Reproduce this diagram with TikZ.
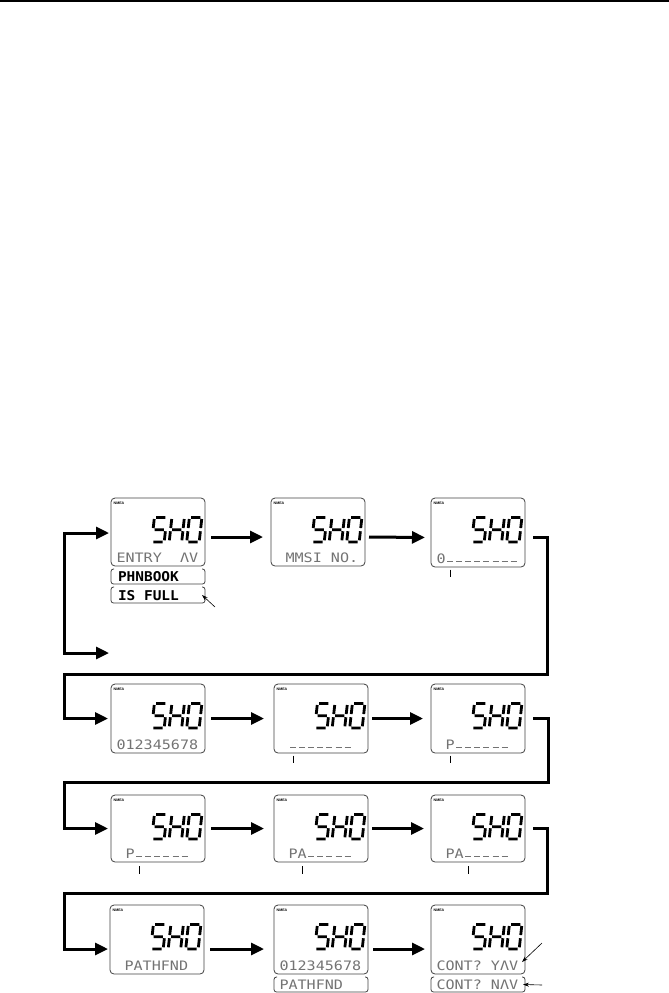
\documentclass[tikz,border=0pt]{standalone}
\usepackage{fontspec}
\usetikzlibrary{arrows.meta,calc}
\newfontfamily\lcdfont[FakeStretch=1.16]{DejaVu Sans Mono}
\newfontfamily\lcdboldfont[FakeStretch=1.07]{DejaVu Sans Mono}
\newfontfamily\nmeafont{Liberation Sans}
\newcommand\blk{\phantom{0}}
\newcommand\dsh{\hbox to \fontcharwd\font`0{\hss\rule[2pt]{6pt}{0.9pt}\hss}}
\tikzset{
  lcdbox/.style={draw=black!75, line width=0.8pt, rounded corners=4pt, minimum width=94pt, inner sep=0pt, outer sep=0pt},
  lcdtxt/.style={anchor=base west, inner sep=0pt, outer sep=0pt, text=black!55, font=\lcdfont\fontsize{13}{13}\selectfont},
  boldtxt/.style={anchor=base west, inner sep=0pt, outer sep=0pt, text=black, font=\lcdboldfont\bfseries\fontsize{13.5}{13.5}\selectfont},
  nmea/.style={anchor=west, inner sep=0pt, font=\nmeafont\bfseries\fontsize{3.6}{4}\selectfont},
  stripnode/.style={minimum width=94pt, inner sep=0pt, outer sep=0pt},
  stripline/.style={draw=black!75, line width=0.8pt, rounded corners=2.5pt},
  flow/.style={line width=3pt, -{Triangle[length=13pt,width=12pt]}},
  tickline/.style={line width=0.8pt},
  ptr/.style={line width=0.6pt, -{Stealth[length=6pt,width=4pt]}},
  seg/.style={line width=2.8pt, line cap=butt},
  sho/.pic={
    \begin{scope}[xslant=0.11]
      \draw[seg] (1.6,0)--(10.9,0) (0,1.6)--(0,10.65) (1.6,12.25)--(10.9,12.25) (12.5,13.85)--(12.5,22.9) (1.6,24.5)--(10.9,24.5);
      \draw[seg,shift={(17.5,0)}] (0,1.6)--(0,10.65) (0,13.85)--(0,22.9) (12.5,1.6)--(12.5,10.65) (12.5,13.85)--(12.5,22.9) (1.6,12.25)--(10.9,12.25);
      \draw[seg,shift={(35,0)}] (1.6,0)--(10.9,0) (0,1.6)--(0,10.65) (0,13.85)--(0,22.9) (12.5,1.6)--(12.5,10.65) (12.5,13.85)--(12.5,22.9) (1.6,24.5)--(10.9,24.5);
    \end{scope}
  }
}
\newcommand\lcd[5]{%
  \node[lcdbox, minimum height=#4pt] (#1) at (#2+47,#3+#4/2) {};
  \node[nmea] (#1m) at (#2+2.5,#3+5.5) {NMEA};
  \pic at (#2+43.4,#3+19.4) {sho};
  \node[lcdtxt] (#1t) at (#2+5.5,#3+#4-3.5) {#5};
}
\newcommand\lcdstrip[7]{%
  \node[stripnode, minimum height=#4pt] (#1) at (#2+47,#3+#4/2) {};
  \draw[stripline] ([xshift=3pt]#1.north west) -- (#1.north west) -- (#1.south west) -- (#1.south east) -- (#1.north east) -- ([xshift=-3pt]#1.north east);
  \node[#6] (#1t) at (#2+#7,#3+#4-2.5) {#5};
}
\begin{document}
\begin{tikzpicture}[x=1pt,y=-1pt]
\useasboundingbox (0,0) rectangle (669,993);
\draw[line width=1.6pt] (0,0.9) -- (669,0.9);

% row 1
\lcd{b1}{111}{498}{68}{ENTRY\blk\blk ΛV}
\lcd{b2}{271}{498}{68}{\blk MMSI\blk NO.}
\lcd{b3}{431}{498}{69}{0\dsh\dsh\dsh\dsh\dsh\dsh\dsh\dsh}
\lcdstrip{s1}{111}{569}{15}{PHNBOOK}{boldtxt}{7}
\lcdstrip{s2}{111}{587}{16}{IS\blk FULL}{boldtxt}{7}
% row 2
\lcd{b4}{111}{684}{69}{012345678}
\lcd{b5}{274}{684}{69}{\blk\dsh\dsh\dsh\dsh\dsh\dsh\dsh}
\lcd{b6}{431}{684}{69}{\blk P\dsh\dsh\dsh\dsh\dsh\dsh}
% row 3
\lcd{b7}{111}{795}{67}{\blk P\dsh\dsh\dsh\dsh\dsh\dsh}
\lcd{b8}{274}{795}{67}{\blk PA\dsh\dsh\dsh\dsh\dsh}
\lcd{b9}{431}{795}{67}{\blk PA\dsh\dsh\dsh\dsh\dsh}
% row 4
\lcd{b10}{110}{905}{69}{\blk PATHFND}
\lcd{b11}{274}{905}{69}{012345678}
\lcd{b12}{431}{905}{69}{CONT?\blk YΛV}
\lcdstrip{s3}{274}{977}{15}{PATHFND}{lcdtxt}{5.5}
\lcdstrip{s4}{431}{977}{15}{CONT?\blk NΛV}{lcdtxt}{5.5}

% cursor ticks
\draw[tickline] ([xshift=19.5pt,yshift=-2.5pt]b3.south west) -- ++(0,7.5);
\draw[tickline] ([xshift=19pt,yshift=-2.5pt]b5.south west) -- ++(0,7.5);
\draw[tickline] ([xshift=19pt,yshift=-2.5pt]b6.south west) -- ++(0,7.5);
\draw[tickline] ([xshift=28.5pt,yshift=-4pt]b7.south west) -- ++(0,7.5);
\draw[tickline] ([xshift=28.5pt,yshift=-4pt]b8.south west) -- ++(0,7.5);
\draw[tickline] ([xshift=37.5pt,yshift=-4pt]b9.south west) -- ++(0,7.5);

% row arrows
\draw[flow] ([xshift=6pt,yshift=-5pt]b1.east) -- ([xshift=-8pt,yshift=-5pt]b2.west);
\draw[flow] ([xshift=4pt,yshift=-5pt]b2.east) -- ([xshift=-6pt,yshift=-5pt]b3.west);
\draw[flow] ([xshift=6pt]b4.east) -- ([xshift=-10pt]b5.west);
\draw[flow] ([xshift=4pt]b5.east) -- ([xshift=-8pt]b6.west);
\draw[flow] ([xshift=6pt]b7.east) -- ([xshift=-10pt]b8.west);
\draw[flow] ([xshift=4pt]b8.east) -- ([xshift=-7pt]b9.west);
\draw[flow] ([xshift=6pt,yshift=-9.5pt]b10.east) -- ([xshift=-10pt,yshift=-9.5pt]b11.west);
\draw[flow] ([xshift=5pt,yshift=-9.5pt]b11.east) -- ([xshift=-6pt,yshift=-9.5pt]b12.west);

% row-to-row connectors
\coordinate (r1) at (547,674); \coordinate (l1) at (64.5,674);
\draw[flow] ([xshift=8pt,yshift=-5pt]b3.east) -| (r1) -- (l1) |- ([xshift=-3pt]b4.west);
\coordinate (r2) at (548,782); \coordinate (l2) at (64.5,782);
\draw[flow] ([xshift=8pt]b6.east) -| (r2) -- (l2) |- ([xshift=-3pt]b7.west);
\coordinate (r3) at (547,893); \coordinate (l3) at (64.5,893);
\draw[flow] ([xshift=8pt]b9.east) -| (r3) -- (l3) |- ([xshift=-2pt,yshift=-9.5pt]b10.west);

% left loop at row 1
\coordinate (lp) at (64.5,653); \coordinate (le) at (109,653);
\draw[flow,{Triangle[length=13pt,width=12pt]}-{Triangle[length=13pt,width=12pt]}] ([xshift=-2pt,yshift=-1pt]b1.west) -| (lp) -- (le);

% pointers
\coordinate (pf) at (215,607);
\draw[ptr] (pf) -- ([xshift=-3pt]s2.east);
\coordinate (py) at (542,943);
\draw[ptr] (py) -- ([xshift=-3pt,yshift=12pt]b12.south east);
\coordinate (pn) at (542,985);
\draw[ptr] (pn) -- ([xshift=-2pt]s4.east);
\end{tikzpicture}
\end{document}
